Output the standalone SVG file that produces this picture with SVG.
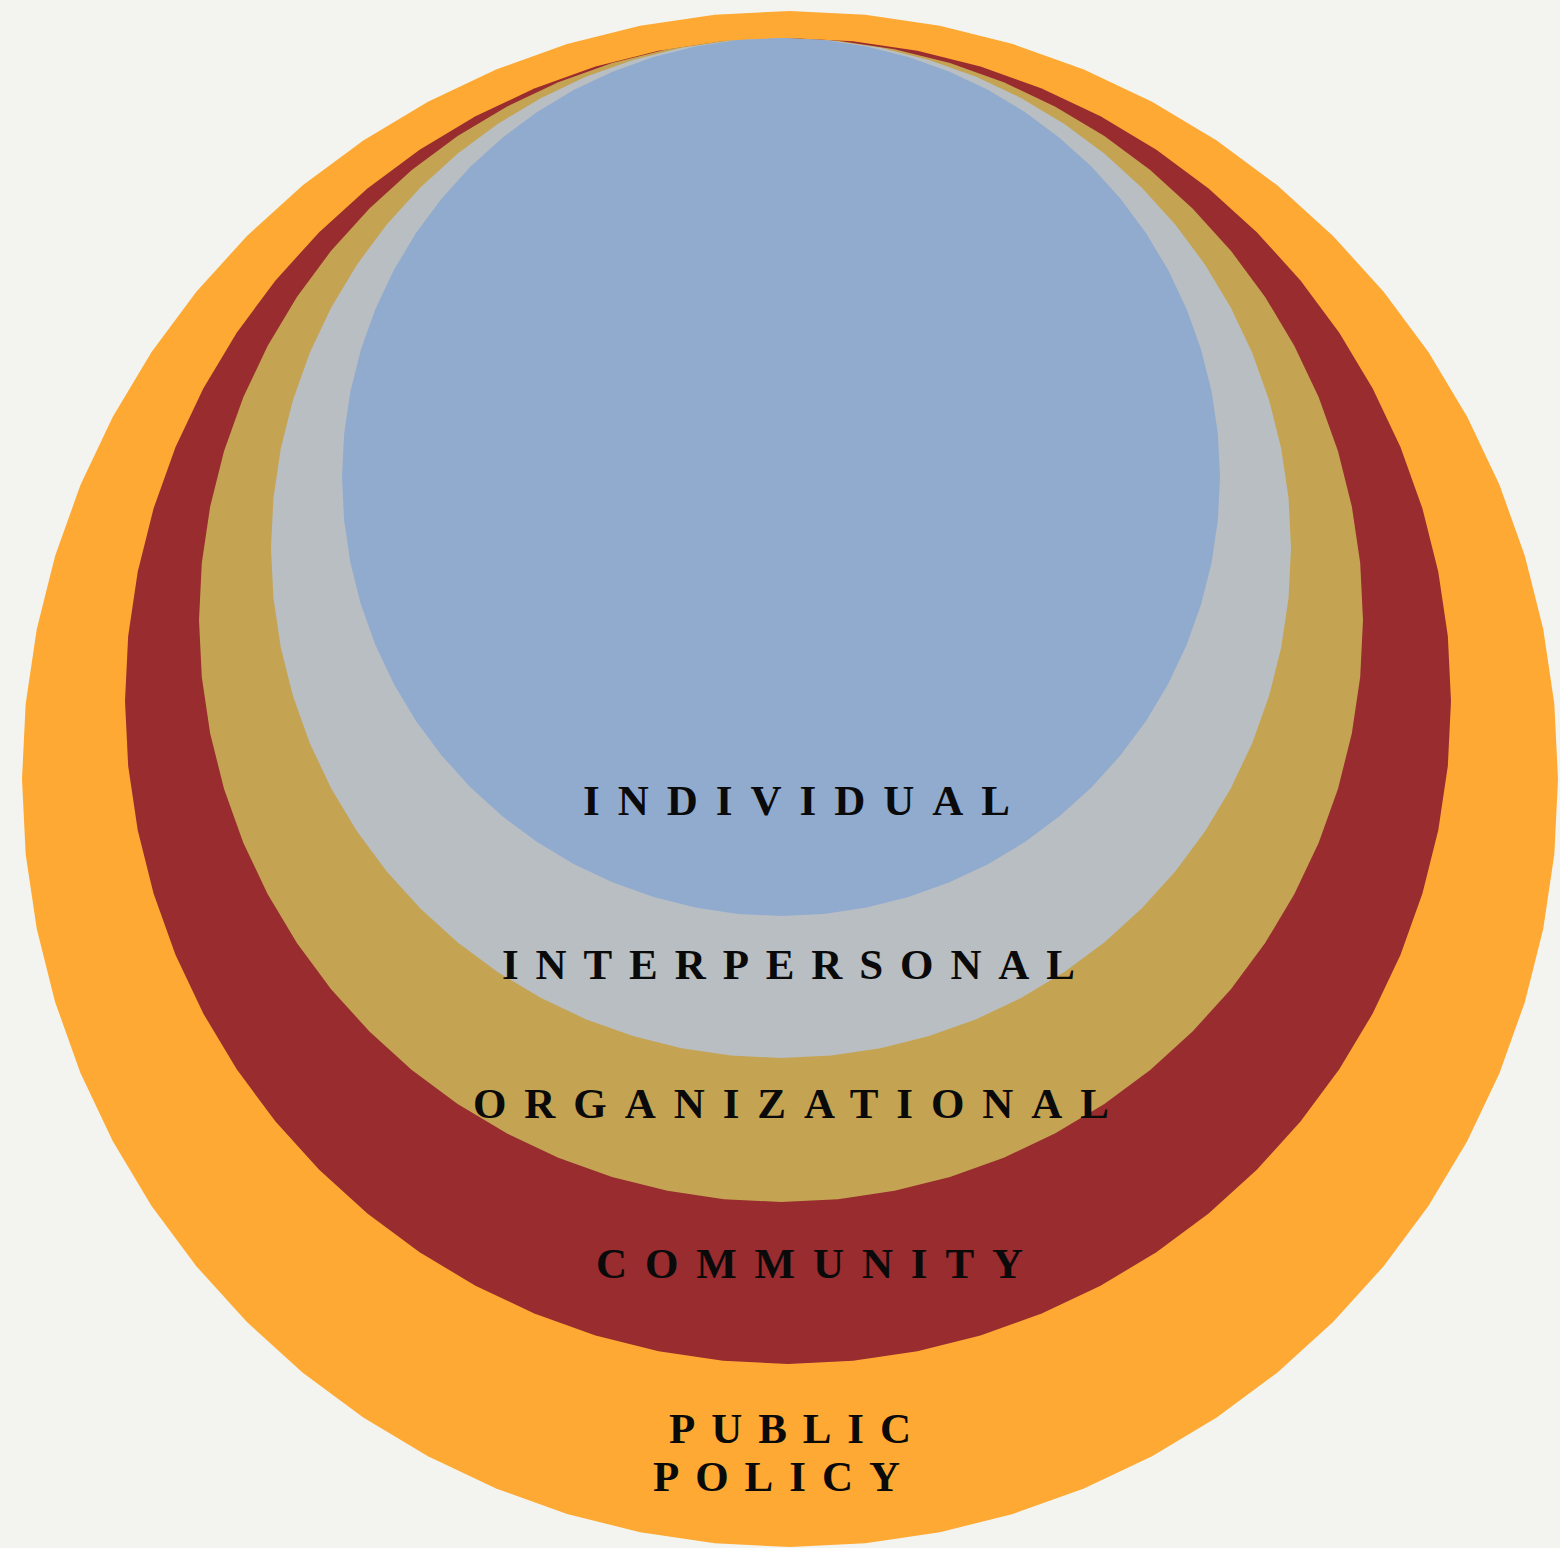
<svg xmlns="http://www.w3.org/2000/svg" xmlns:xlink="http://www.w3.org/1999/xlink" width="1560" height="1548" viewBox="0 0 1560 1548">
<style>
.lbl{font-family:"Liberation Serif","Times New Roman",serif;font-weight:bold;font-size:43px;fill:#0a0a0a}
</style>
<defs>
<polygon id="ring64" points="1000,0 995.2,98 980.8,195.1 956.9,290.3 923.9,382.7 881.9,471.4 831.5,555.6 773,634.4 707.1,707.1 634.4,773 555.6,831.5 471.4,881.9 382.7,923.9 290.3,956.9 195.1,980.8 98,995.2 0,1000 -98,995.2 -195.1,980.8 -290.3,956.9 -382.7,923.9 -471.4,881.9 -555.6,831.5 -634.4,773 -707.1,707.1 -773,634.4 -831.5,555.6 -881.9,471.4 -923.9,382.7 -956.9,290.3 -980.8,195.1 -995.2,98 -1000,0 -995.2,-98 -980.8,-195.1 -956.9,-290.3 -923.9,-382.7 -881.9,-471.4 -831.5,-555.6 -773,-634.4 -707.1,-707.1 -634.4,-773 -555.6,-831.5 -471.4,-881.9 -382.7,-923.9 -290.3,-956.9 -195.1,-980.8 -98,-995.2 0,-1000 98,-995.2 195.1,-980.8 290.3,-956.9 382.7,-923.9 471.4,-881.9 555.6,-831.5 634.4,-773 707.1,-707.1 773,-634.4 831.5,-555.6 881.9,-471.4 923.9,-382.7 956.9,-290.3 980.8,-195.1 995.2,-98"/>
</defs>
<rect width="1560" height="1548" fill="#f3f4ef"/>
<g id="public-policy">
<use href="#ring64" xlink:href="#ring64" transform="translate(790 779) scale(0.768)" fill="#fea933"/>
<text class="lbl" x="669" y="1443" textLength="242" lengthAdjust="spacing">PUBLIC</text>
<text class="lbl" x="653" y="1491" textLength="247" lengthAdjust="spacing">POLICY</text>
</g>
<g id="community">
<use href="#ring64" xlink:href="#ring64" transform="translate(788 701) scale(0.663)" fill="#982c2f"/>
<text class="lbl" x="596" y="1278" textLength="427" lengthAdjust="spacing">COMMUNITY</text>
</g>
<g id="organizational">
<use href="#ring64" xlink:href="#ring64" transform="translate(781 620) scale(0.582)" fill="#c4a453"/>
<text class="lbl" x="473" y="1118" textLength="636" lengthAdjust="spacing">ORGANIZATIONAL</text>
</g>
<g id="interpersonal">
<use href="#ring64" xlink:href="#ring64" transform="translate(781 548) scale(0.51)" fill="#b9bec2"/>
<text class="lbl" x="502" y="979" textLength="573" lengthAdjust="spacing">INTERPERSONAL</text>
</g>
<g id="individual">
<use href="#ring64" xlink:href="#ring64" transform="translate(781 477) scale(0.439)" fill="#91abcf"/>
<text class="lbl" x="583" y="815" textLength="427" lengthAdjust="spacing">INDIVIDUAL</text>
</g>
<g id="connectors"/>
</svg>
